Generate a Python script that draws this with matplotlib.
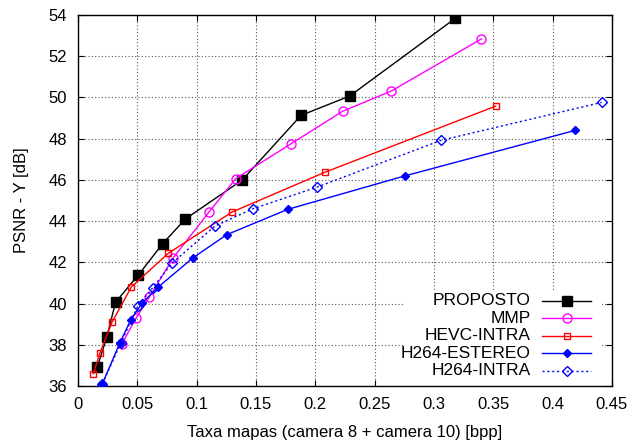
import matplotlib
matplotlib.use("Agg")
import matplotlib.pyplot as plt
from matplotlib.patches import Rectangle

plt.rcParams["font.family"] = ["Liberation Sans", "DejaVu Sans"]
plt.rcParams["font.size"] = 12

# taxa (bpp) x PSNR-Y (dB)
proposto_x = [0.0163, 0.0242, 0.0317, 0.0508, 0.0713, 0.0904, 0.1385, 0.188, 0.229, 0.318]
proposto_y = [36.92, 38.36, 40.07, 41.38, 42.90, 44.10, 46.00, 49.13, 50.07, 53.84]

mmp_x = [0.037, 0.049, 0.060, 0.0803, 0.1104, 0.1329, 0.1792, 0.223, 0.264, 0.340]
mmp_y = [38.05, 39.30, 40.30, 42.22, 44.44, 46.06, 47.74, 49.33, 50.31, 52.84]

hevc_x = [0.0129, 0.0185, 0.0287, 0.0449, 0.0761, 0.1298, 0.208, 0.352]
hevc_y = [36.60, 37.60, 39.10, 40.80, 42.44, 44.44, 46.37, 49.58]

h264_est_x = [0.0205, 0.0351, 0.0444, 0.054, 0.0674, 0.0969, 0.1253, 0.1767, 0.2758, 0.4188]
h264_est_y = [36.10, 38.07, 39.20, 40.02, 40.79, 42.22, 43.34, 44.57, 46.20, 48.40]

h264_intra_x = [0.0205, 0.036, 0.0506, 0.063, 0.079, 0.1154, 0.1475, 0.2014, 0.306, 0.4413]
h264_intra_y = [36.10, 38.07, 39.90, 40.77, 41.95, 43.76, 44.60, 45.65, 47.92, 49.76]

x_ticks = [0, 0.05, 0.1, 0.15, 0.2, 0.25, 0.3, 0.35, 0.4, 0.45]
x_labels = ["0", "0.05", "0.1", "0.15", "0.2", "0.25", "0.3", "0.35", "0.4", "0.45"]

fig = plt.figure(figsize=(6.33, 4.44), dpi=100)
ax = fig.add_axes([0.1232, 0.1306, 0.8436, 0.8356])
ax.set_axisbelow(True)

series = [
    ("PROPOSTO", proposto_x, proposto_y,
     dict(color="black", ls="-", marker="s", ms=6.5)),
    ("MMP", mmp_x, mmp_y,
     dict(color="#ff00ff", ls="-", marker="o", ms=6.5, mfc="none", mew=1)),
    ("HEVC-INTRA", hevc_x, hevc_y,
     dict(color="#ff0000", ls="-", marker="s", ms=4.5, mfc="none", mew=1)),
    ("H264-ESTEREO", h264_est_x, h264_est_y,
     dict(color="#0000ff", ls="-", marker="D", ms=4.5)),
    ("H264-INTRA", h264_intra_x, h264_intra_y,
     dict(color="#0000ff", ls=(0, (1.5, 2)), marker="D", ms=5, mfc="none", mew=1)),
]

for name, xs, ys, st in series:
    ax.plot(xs, ys, lw=1, zorder=3, **st)

ax.set_xlim(0, 0.45)
ax.set_ylim(36, 54)
ax.set_xticks(x_ticks)
ax.set_xticklabels(x_labels)
ax.set_yticks(range(36, 55, 2))
ax.tick_params(direction="in", top=True, right=True, length=4, width=0.8, pad=8)
ax.grid(True, color="#555555", ls=(0, (1, 2)), lw=0.8)
for s in ax.spines.values():
    s.set_linewidth(1)

ax.set_xlabel("Taxa mapas (camera 8 + camera 10) [bpp]", labelpad=9)
ax.set_ylabel("PSNR - Y [dB]", labelpad=14)

# legenda no estilo do gnuplot (texto alinhado a direita, fundo opaco)
ax.add_patch(Rectangle((0.612, 0.0), 0.369, 0.259, transform=ax.transAxes,
                       facecolor="white", edgecolor="none", zorder=1))
row_y = [0.230, 0.1825, 0.1356, 0.0881, 0.0412]
for (name, xs, ys, st), yy in zip(series, row_y):
    ax.text(0.848, yy, name, transform=ax.transAxes, ha="right", va="center",
            fontsize=12.5, zorder=4)
    st2 = {k: v for k, v in st.items() if k != "marker"}
    ax.plot([0.869, 0.961], [yy, yy], transform=ax.transAxes, lw=1,
            clip_on=False, zorder=4, **st2)
    ax.plot([0.915], [yy], transform=ax.transAxes, clip_on=False, zorder=5,
            **st)

fig.savefig("out.png", dpi=100)
